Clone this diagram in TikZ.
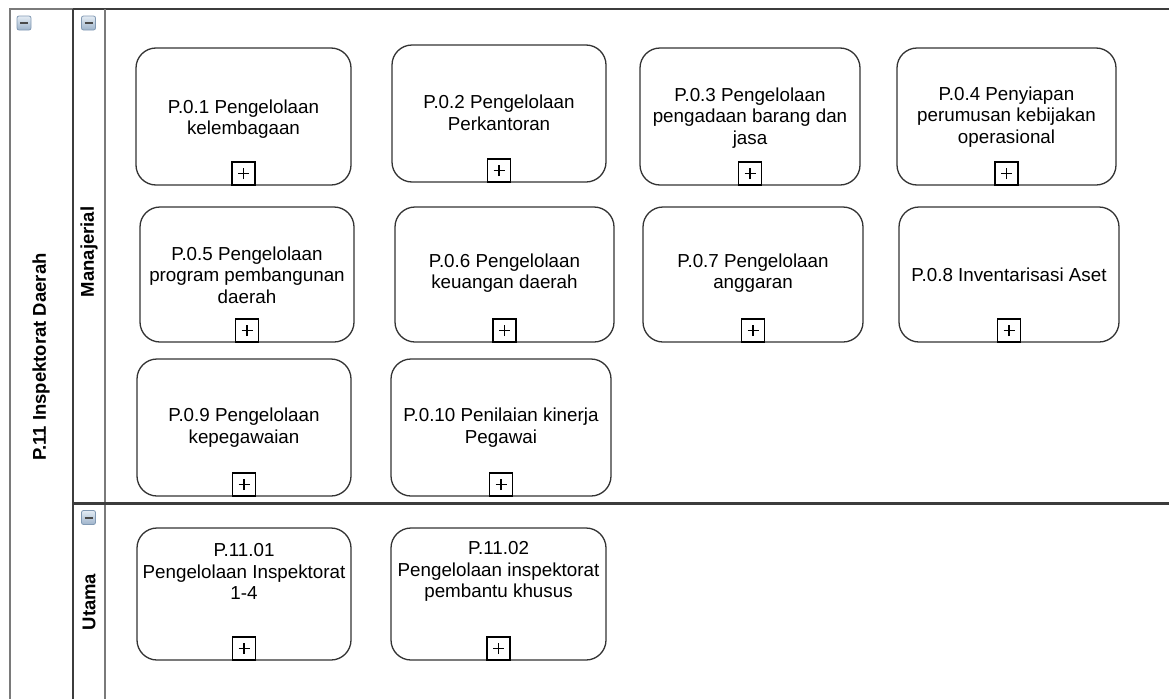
\documentclass[tikz,border=0pt]{standalone}
\usepackage{fontspec}
\setmainfont{Liberation Sans}
\definecolor{boxline}{HTML}{333333}
\definecolor{poolgray}{HTML}{7A7A7A}
\definecolor{lanedark}{HTML}{3C3C3C}
\definecolor{icontop}{HTML}{E4ECF4}
\definecolor{iconbot}{HTML}{9DB3CA}
\definecolor{iconedge}{HTML}{8199B3}
\definecolor{iconminus}{HTML}{4A4A4A}
\begin{document}
\begin{tikzpicture}[x=1pt,y=-1pt,
  proc/.style={draw=boxline, line width=1.3pt, rounded corners=20pt, inner sep=0pt, fill=white},
  txt/.style={align=center, inner sep=0pt, font=\fontsize{18.8}{21.5}\selectfont},
  plusbox/.style={draw=black, line width=1.2pt, fill=white, minimum size=23pt, inner sep=0pt, anchor=south,
    path picture={
      \draw[line width=1.3pt] ([xshift=-5.5pt]path picture bounding box.center) -- ([xshift=5.5pt]path picture bounding box.center);
      \draw[line width=1.3pt] ([yshift=-5.5pt]path picture bounding box.center) -- ([yshift=5.5pt]path picture bounding box.center);}},
  collapse/.style={draw=iconedge, line width=0.8pt, rounded corners=2pt, top color=icontop, bottom color=iconbot,
    minimum size=14pt, inner sep=0pt,
    path picture={\draw[iconminus, line width=2pt] ([xshift=-4pt]path picture bounding box.center) -- ([xshift=4pt]path picture bounding box.center);}},
  lbl/.style={font=\fontsize{18.5}{20}\selectfont\bfseries, inner sep=0pt, rotate=90},
  poolline/.style={draw=poolgray, line width=2pt},
  laneline/.style={draw=lanedark, line width=2.5pt}
]
\useasboundingbox (0,0) rectangle (1169,699);

% pool and lanes
\draw[poolline] (10,699) -- (10,9) -- (73,9);
\draw[laneline] (73,9) -- (1169,9);
\draw[laneline] (73,9) -- (73,699);
\draw[poolline] (105,9) -- (105,699);
\draw[laneline] (73,503.5) -- (1169,503.5);

\node[collapse] (cpool) at (24,23) {};
\node[collapse] (clane1) at (88.5,23) {};
\node[collapse] (clane2) at (88.5,517.5) {};

\node[lbl] (pool) at (41,357) {P.11 Inspektorat Daerah};
\node[lbl] (lane1) at (89,252) {Manajerial};
\node[lbl] (lane2) at (89,602) {Utama};

% row 1
\node[proc, minimum width=215pt, minimum height=137pt] (b1) at (243.5,116.5) {};
\node[proc, minimum width=214pt, minimum height=137pt] (b2) at (499,113.5) {};
\node[proc, minimum width=220pt, minimum height=137pt] (b3) at (750,116.5) {};
\node[proc, minimum width=219pt, minimum height=137pt] (b4) at (1006.5,116.5) {};
% row 2
\node[proc, minimum width=214pt, minimum height=135pt] (b5) at (247,274.5) {};
\node[proc, minimum width=219pt, minimum height=135pt] (b6) at (504.5,274.5) {};
\node[proc, minimum width=220pt, minimum height=135pt] (b7) at (753,274.5) {};
\node[proc, minimum width=220pt, minimum height=135pt] (b8) at (1009,274.5) {};
% row 3
\node[proc, minimum width=214pt, minimum height=137pt] (b9) at (244,427.5) {};
\node[proc, minimum width=220pt, minimum height=137pt] (b10) at (501,427.5) {};
% utama
\node[proc, minimum width=214pt, minimum height=132pt] (b11) at (244,594) {};
\node[proc, minimum width=215pt, minimum height=132pt] (b12) at (498.5,594) {};

% texts
\node[txt] (t1) at (243.5,119) {P.0.1 Pengelolaan\\kelembagaan};
\node[txt] (t2) at (499,113) {P.0.2 Pengelolaan\\Perkantoran};
\node[txt] (t3) at (750,118) {P.0.3 Pengelolaan\\pengadaan barang dan\\jasa};
\node[txt] (t4) at (1006.5,117) {P.0.4 Penyiapan\\perumusan kebijakan\\operasional};
\node[txt] (t5) at (247,275) {P.0.5 Pengelolaan\\program pembangunan\\daerah};
\node[txt] (t6) at (504.5,273) {P.0.6 Pengelolaan\\keuangan daerah};
\node[txt] (t7) at (753,273) {P.0.7 Pengelolaan\\anggaran};
\node[txt] (t8) at (1009,275) {P.0.8 Inventarisasi Aset};
\node[txt] (t9) at (244,427.5) {P.0.9 Pengelolaan\\kepegawaian};
\node[txt] (t10) at (501,427.5) {P.0.10 Penilaian kinerja\\Pegawai};
\node[txt] (t11) at (244,571.5) {P.11.01\\Pengelolaan Inspektorat\\1-4};
\node[txt] (t12) at (498.5,571.5) {P.11.02\\Pengelolaan inspektorat\\pembantu khusus};

% collapsed sub-process markers
\foreach \i in {1,...,12} {
  \node[plusbox] (p\i) at (b\i.south) {};
}
\end{tikzpicture}
\end{document}
